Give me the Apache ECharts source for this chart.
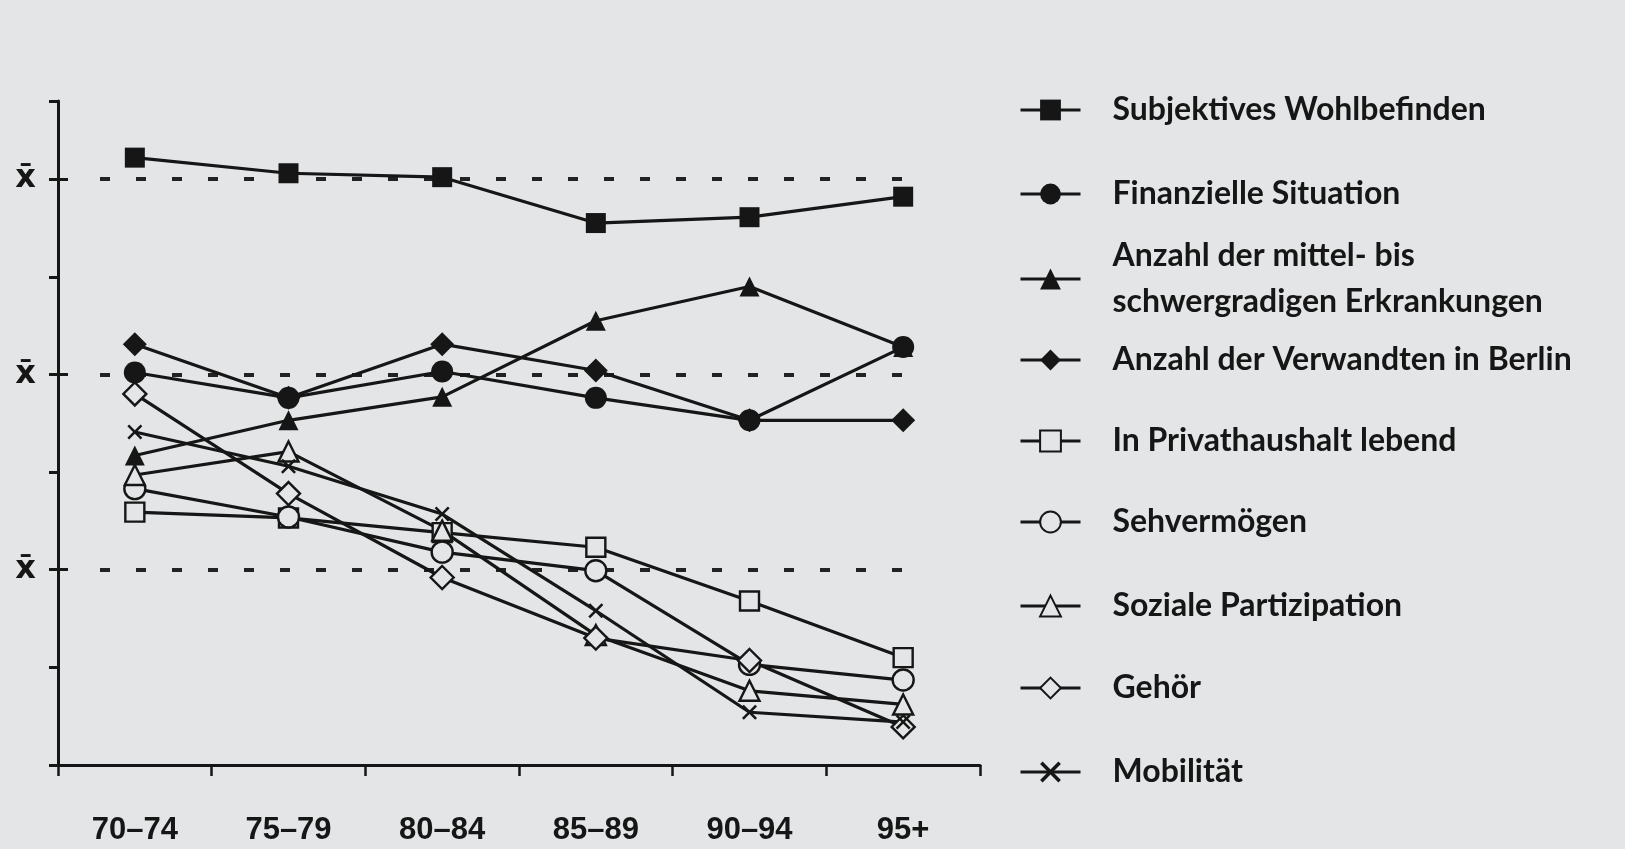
<!DOCTYPE html>
<html>
<head>
<meta charset="utf-8">
<script src="https://cdn.jsdelivr.net/npm/echarts@6/dist/echarts.min.js"></script>
<style>
  html, body { margin: 0; padding: 0; background: #e3e5e6; }
  #chart { width: 1625px; height: 849px; }
</style>
</head>
<body>
<div id="chart"></div>
<script>
// ---- data ----
const categories = ['70–74', '75–79', '80–84', '85–89', '90–94', '95+'];
const wohlbefinden   = [6.22, 6.06, 6.02, 5.55, 5.61, 5.82];
const finanzen       = [4.02, 3.76, 4.03, 3.76, 3.53, 4.28];
const erkrankungen   = [3.17, 3.53, 3.77, 4.55, 4.90, 4.28];
const verwandte      = [4.31, 3.76, 4.31, 4.04, 3.53, 3.53];
const privathaushalt = [2.59, 2.53, 2.38, 2.23, 1.68, 1.10];
const sehen          = [2.83, 2.54, 2.18, 1.99, 1.03, 0.87];
const partizipation  = [2.97, 3.21, 2.40, 1.33, 0.76, 0.62];
const gehoer         = [3.80, 2.78, 1.92, 1.30, 1.07, 0.39];
const mobilitaet     = [3.41, 3.06, 2.57, 1.58, 0.54, 0.44];
const meanLevels = [2, 4, 6];
const meanLabel = 'x\u0304';
const seriesNames = [
  'Subjektives Wohlbefinden',
  'Finanzielle Situation',
  'Anzahl der mittel- bis\nschwergradigen Erkrankungen',
  'Anzahl der Verwandten in Berlin',
  'In Privathaushalt lebend',
  'Sehvermögen',
  'Soziale Partizipation',
  'Gehör',
  'Mobilität'
];
const seriesValues = [wohlbefinden, finanzen, erkrankungen, verwandte, privathaushalt, sehen, partizipation, gehoer, mobilitaet];

// ---- styles ----
const BG = '#e3e5e6';
const INK = '#161616';
const crossPath = 'path://M0,1.2 L1.2,0 L5,3.8 L8.8,0 L10,1.2 L6.2,5 L10,8.8 L8.8,10 L5,6.2 L1.2,10 L0,8.8 L3.8,5 Z';
const markers = [
  { symbol: 'rect',     filled: true,  size: 20 },
  { symbol: 'circle',   filled: true,  size: 22 },
  { symbol: 'triangle', filled: true,  size: 20 },
  { symbol: 'diamond',  filled: true,  size: 24 },
  { symbol: 'rect',     filled: false, size: 19 },
  { symbol: 'circle',   filled: false, size: 21 },
  { symbol: 'triangle', filled: false, size: 20 },
  { symbol: 'diamond',  filled: false, size: 23 },
  { symbol: crossPath,  filled: true,  size: 15 }
];
const legendCenters = [105, 189, 274, 355, 436, 517, 601, 683, 767];
const LH = 46;

const series = seriesNames.map((name, i) => {
  const m = markers[i];
  return {
    name: name,
    type: 'line',
    data: seriesValues[i],
    symbol: m.symbol,
    symbolSize: m.size,
    showAllSymbol: true,
    z: 10 - (i > 3 ? 1 : 0),
    lineStyle: { color: INK, width: 3.2 },
    itemStyle: m.filled
      ? { color: INK, borderColor: INK, borderWidth: 0 }
      : { color: BG, borderColor: INK, borderWidth: 2.4 },
    emphasis: { disabled: true },
    animation: false
  };
});

// dashed mean lines (drawn behind)
series.push({
  name: '__mean',
  type: 'line',
  data: [],
  silent: true,
  z: 1,
  markLine: {
    silent: true,
    symbol: 'none',
    label: { show: false },
    lineStyle: { color: '#222', width: 4, type: [10, 26] },
    data: meanLevels.map(v => [{ coord: [0, v], x: 100 }, { coord: [categories.length - 1, v] }])
  }
});

const legends = seriesNames.map((name, i) => {
  const lines = name.split('\n').length;
  return {
    data: [name],
    orient: 'vertical',
    left: 1014,
    top: legendCenters[i] - (LH * lines) / 2,
    itemWidth: 60,
    itemHeight: 26,
    selectedMode: false,
    lineStyle: { width: 3, color: INK },
    textStyle: {
      fontFamily: 'Lato',
      fontWeight: 'bold',
      fontSize: 32,
      lineHeight: LH,
      color: INK,
      padding: [0, 0, 0, 27]
    }
  };
});

const chart = echarts.init(document.getElementById('chart'), null, { renderer: 'canvas' });
chart.setOption({
  backgroundColor: BG,
  animation: false,
  grid: { left: 58, right: 645, top: 101, bottom: 84, containLabel: false },
  legend: legends,
  xAxis: {
    type: 'category',
    data: categories,
    boundaryGap: true,
    axisLine: { lineStyle: { color: INK, width: 3 } },
    axisTick: { show: true, length: 11, lineStyle: { color: INK, width: 2.5 } },
    axisLabel: {
      margin: 50,
      color: INK,
      fontFamily: 'Liberation Sans',
      fontWeight: 'bold',
      fontSize: 31
    },
    splitLine: { show: false }
  },
  yAxis: [{
    type: 'value',
    min: 0,
    max: 6.8,
    interval: 1,
    axisLine: { show: true, lineStyle: { color: INK, width: 3 } },
    axisTick: { show: true, length: 9, lineStyle: { color: INK, width: 3 } },
    axisLabel: {
      margin: 22,
      color: INK,
      fontFamily: 'DejaVu Sans',
      fontWeight: 'bold',
      fontSize: 32,
      formatter: v => (meanLevels.indexOf(v) >= 0 ? meanLabel : '')
    },
    splitLine: { show: false }
  }, {
    type: 'value',
    position: 'left',
    min: 0,
    max: 6.8,
    interval: 1,
    axisLine: { show: false },
    axisTick: { show: true, inside: true, length: 10, customValues: meanLevels, lineStyle: { color: INK, width: 3 } },
    axisLabel: { show: false },
    splitLine: { show: false }
  }],
  series: series
});
</script>
</body>
</html>
